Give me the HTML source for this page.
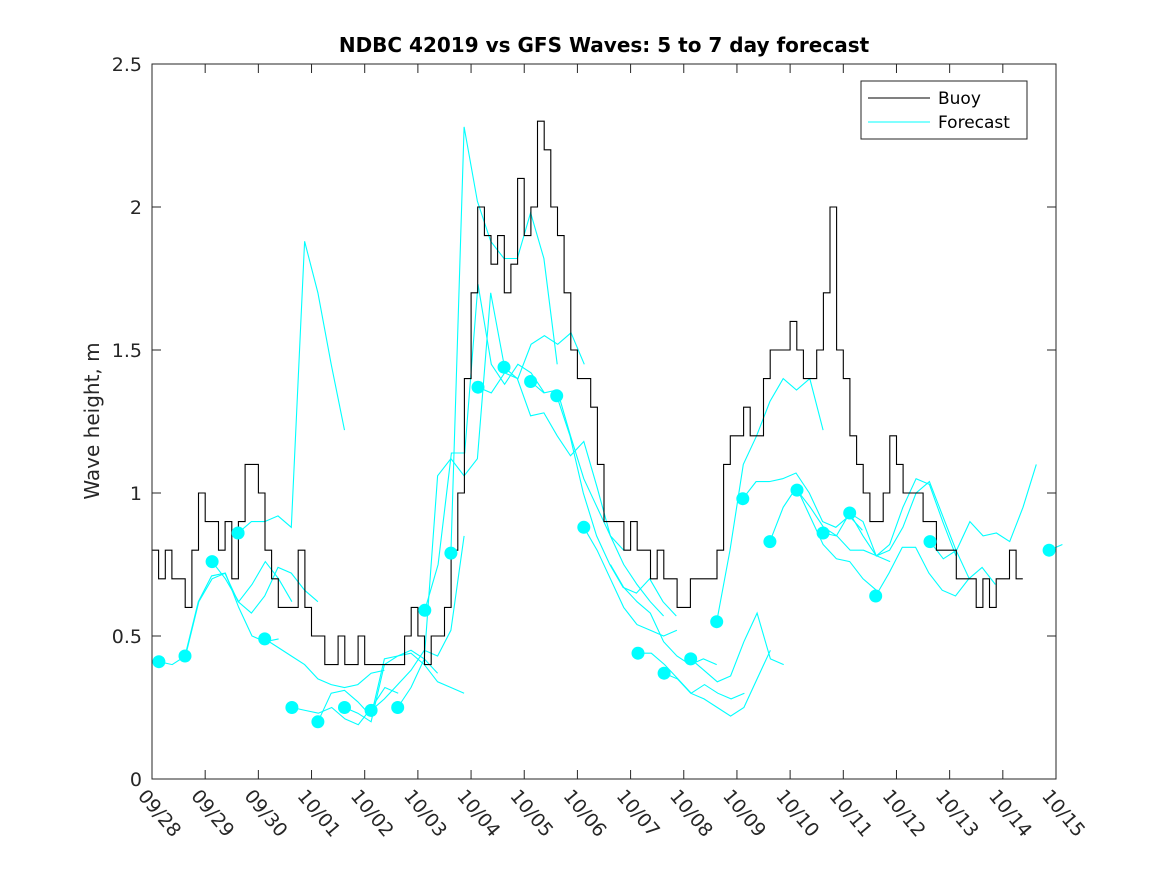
<!DOCTYPE html>
<html><head><meta charset="utf-8"><style>
html,body{margin:0;padding:0;background:#fff;}
svg{display:block;font-family:"DejaVu Sans","Liberation Sans",sans-serif;}
</style></head><body>
<svg id="chart" width="1167" height="875" viewBox="0 0 1167 875" xmlns="http://www.w3.org/2000/svg">
<rect width="1167" height="875" fill="#fff"/>
<text x="604" y="52" text-anchor="middle" font-size="20" font-weight="bold" fill="#000">NDBC 42019 vs GFS Waves: 5 to 7 day forecast</text>
<text transform="translate(99,421) rotate(-90)" text-anchor="middle" font-size="20" fill="#262626">Wave height, m</text>
<g id="plot"></g>
<g id="axes"></g>
<g>
<rect x="861" y="81" width="166" height="58" fill="#fff" stroke="#262626" stroke-width="1"/>
<line x1="868" y1="98" x2="930" y2="98" stroke="#000" stroke-width="1"/>
<text x="938" y="104" font-size="17" fill="#000">Buoy</text>
<line x1="868" y1="122" x2="930" y2="122" stroke="#00ffff" stroke-width="1"/>
<text x="938" y="128" font-size="17" fill="#000">Forecast</text>
</g>
</svg>
<script>
const xTickLabels=["09/28","09/29","09/30","10/01","10/02","10/03","10/04","10/05","10/06","10/07","10/08","10/09","10/10","10/11","10/12","10/13","10/14","10/15"];
const yTicks=[0,0.5,1,1.5,2,2.5];
const yTickLabels=["0","0.5","1","1.5","2","2.5"];
const buoyStep=0.125;
const buoyValues=[0.8,0.7,0.8,0.7,0.7,0.6,0.8,1.0,0.9,0.9,0.8,0.9,0.7,0.9,1.1,1.1,1.0,0.8,0.7,0.6,0.6,0.6,0.8,0.6,0.5,0.5,0.4,0.4,0.5,0.4,0.4,0.5,0.4,0.4,0.4,0.4,0.4,0.4,0.5,0.6,0.5,0.4,0.5,0.5,0.6,0.8,1.0,1.4,1.7,2.0,1.9,1.8,1.9,1.7,1.8,2.1,1.9,2.0,2.3,2.2,2.0,1.9,1.7,1.5,1.4,1.4,1.3,1.1,0.9,0.9,0.9,0.8,0.9,0.8,0.8,0.7,0.8,0.7,0.7,0.6,0.6,0.7,0.7,0.7,0.7,0.8,1.1,1.2,1.2,1.3,1.2,1.2,1.4,1.5,1.5,1.5,1.6,1.5,1.4,1.4,1.5,1.7,2.0,1.5,1.4,1.2,1.1,1.0,0.9,0.9,1.0,1.2,1.1,1.0,1.0,1.0,0.9,0.9,0.8,0.8,0.8,0.7,0.7,0.7,0.6,0.7,0.6,0.7,0.7,0.8,0.7];
const forecastStep=0.25;
const runStarts=[0.13,0.62,1.13,1.62,2.12,2.63,3.12,3.62,4.12,4.62,5.13,5.62,6.13,6.62,7.12,7.61,8.12,8.62,9.14,9.63,10.13,10.62,11.11,11.62,12.13,12.62,13.12,13.61,14.63,16.87];
const forecastRuns=[
[0.41,0.40,0.43,0.62,0.70,0.72,0.60,0.50,0.48,0.49],
[0.43,0.62,0.71,0.72,0.62,0.58,0.64,0.74,0.72,0.66,0.62],
[0.76,0.70,0.62,0.68,0.76,0.70,0.62],
[0.86,0.90,0.90,0.92,0.88,1.88,1.70,1.45,1.22],
[0.49,0.46,0.43,0.40,0.35,0.33,0.32,0.33,0.37,0.38],
[0.25,0.24,0.23,0.25,0.21,0.19,0.25,0.32,0.30],
[0.20,0.30,0.31,0.27,0.22,0.42,0.43,0.45,0.42,0.37],
[0.25,0.23,0.20,0.40,0.43,0.44,0.40,0.34,0.32,0.30],
[0.24,0.28,0.33,0.38,0.45,0.43,0.52,0.85],
[0.25,0.32,0.42,1.06,1.12,1.06,1.12,1.70,1.45],
[0.59,0.75,1.14,1.14,1.73,1.45,1.38,1.45,1.42,1.35],
[0.79,2.28,2.02,1.88,1.82,1.82,1.98,1.82,1.45],
[1.37,1.35,1.42,1.40,1.52,1.55,1.52,1.56,1.45],
[1.44,1.40,1.27,1.28,1.20,1.13,1.18,1.02,0.85,0.80],
[1.39,1.35,1.36,1.20,1.05,0.95,0.85,0.75,0.68,0.62,0.57],
[1.34,1.20,1.00,0.85,0.75,0.67,0.65,0.70,0.62,0.57],
[0.88,0.80,0.70,0.60,0.54,0.52,0.50,0.52],
[0.75,0.67,0.62,0.58,0.48,0.43,0.40,0.42,0.40],
[0.44,0.44,0.40,0.35,0.30,0.33,0.30,0.28,0.30],
[0.37,0.35,0.30,0.28,0.25,0.22,0.25,0.35,0.45],
[0.42,0.38,0.34,0.36,0.48,0.58,0.42,0.40],
[0.55,0.80,1.10,1.20,1.32,1.40,1.36,1.40,1.22],
[0.98,1.04,1.04,1.05,1.07,1.00,0.90,0.88,0.92,0.87],
[0.83,0.95,1.02,0.92,0.82,0.77,0.76,0.70,0.66],
[1.01,0.95,0.88,0.85,0.80,0.80,0.78,0.76],
[0.86,0.85,0.93,0.90,0.78,0.82,0.95,1.05,1.03,0.90,0.78],
[0.93,0.85,0.78,0.80,0.88,1.00,1.04,0.92,0.80,0.70],
[0.64,0.72,0.81,0.81,0.72,0.66,0.64,0.70,0.74,0.68],
[0.83,0.77,0.80,0.90,0.85,0.86,0.83,0.95,1.10],
[0.80,0.82]
];
const dotDays=[0.13,0.62,1.13,1.62,2.12,2.63,3.12,3.62,4.12,4.62,5.13,5.62,6.13,6.62,7.12,7.61,8.12,9.14,9.63,10.13,10.62,11.11,11.62,12.13,12.62,13.12,13.61,14.63,16.87];
const dotValues=[0.41,0.43,0.76,0.86,0.49,0.25,0.20,0.25,0.24,0.25,0.59,0.79,1.37,1.44,1.39,1.34,0.88,0.44,0.37,0.42,0.55,0.98,0.83,1.01,0.86,0.93,0.64,0.83,0.80];

const NS="http://www.w3.org/2000/svg";
const X0=152,X1=1056,Y0=779,Y1=64,XMAX=17,YMAX=2.5;
function xs(d){return X0+d*(X1-X0)/XMAX;}
function ys(v){return Y0-v*(Y0-Y1)/YMAX;}
const plot=document.getElementById('plot');
const axes=document.getElementById('axes');
function mk(tag,attrs,parent){const e=document.createElementNS(NS,tag);for(const k in attrs)e.setAttribute(k,attrs[k]);parent.appendChild(e);return e;}

forecastRuns.forEach((run,i)=>{
  const pts=run.map((v,j)=>xs(runStarts[i]+j*forecastStep).toFixed(1)+","+ys(v).toFixed(1)).join(" ");
  const pl=mk('polyline',{points:pts,fill:'none',stroke:'#00ffff','stroke-width':1.1},plot);
  
  
});
let d="";
buoyValues.forEach((v,i)=>{
  const xa=xs(i*buoyStep),xb=xs((i+1)*buoyStep),y=ys(v);
  d+=(i===0?"M":"L")+xa.toFixed(1)+","+y.toFixed(1)+"L"+xb.toFixed(1)+","+y.toFixed(1);
});
const bl=mk('path',{d:d,fill:'none',stroke:'#000','stroke-width':1.1},plot);


dotDays.forEach((t,i)=>{
  const c=mk('circle',{cx:xs(t).toFixed(1),cy:ys(dotValues[i]).toFixed(1),r:6.5,fill:'#00ffff'},plot);
  
  
});
const box=mk('rect',{x:X0,y:Y1,width:X1-X0,height:Y0-Y1,fill:'none',stroke:'#262626','stroke-width':1},axes);


yTicks.forEach((v,i)=>{
  const y=ys(v);
  mk('line',{x1:X0,y1:y,x2:X0+9,y2:y,stroke:'#262626'},axes);
  mk('line',{x1:X1,y1:y,x2:X1-9,y2:y,stroke:'#262626'},axes);
  const t=mk('text',{x:X0-10,y:y+7,'text-anchor':'end','font-size':19,fill:'#262626'},axes);
  t.textContent=yTickLabels[i];
  
  
});
xTickLabels.forEach((lab,i)=>{
  const x=xs(i);
  mk('line',{x1:x,y1:Y0,x2:x,y2:Y0-9,stroke:'#262626'},axes);
  mk('line',{x1:x,y1:Y1,x2:x,y2:Y1+9,stroke:'#262626'},axes);
  const t=mk('text',{transform:`translate(${(x-5).toFixed(1)},788) rotate(50)`,x:0,y:13,'font-size':19,fill:'#262626'},axes);
  t.textContent=lab;
  
  
});
</script>
</body></html>
